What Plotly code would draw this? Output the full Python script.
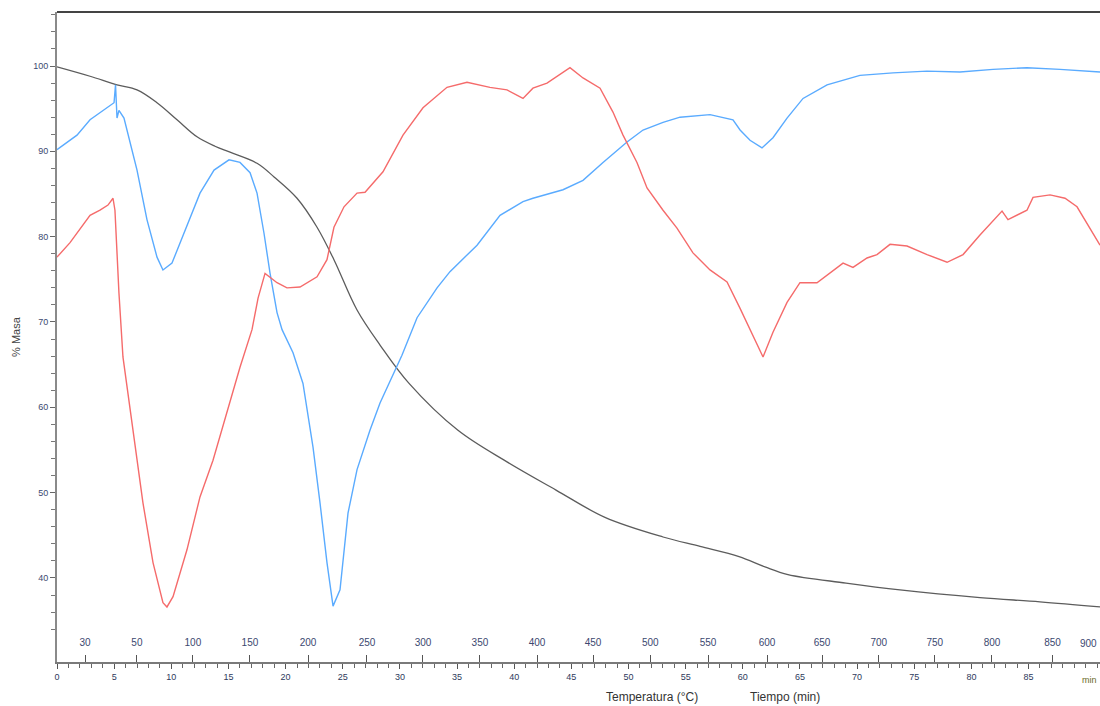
import plotly.graph_objects as go

# --- TG curve (black): time (min), % mass
tg_t = [0.00, 2.89, 5.25, 7.00, 8.75, 10.50, 12.25, 13.82, 15.14, 17.50, 18.99, 21.00, 22.75, 24.23,
        26.25, 28.26, 30.80, 35.08, 39.37, 43.66, 47.94, 53.02, 56.26, 59.67, 61.94, 63.95, 69.03,
        73.75, 80.75, 86.00, 91.25]
tg_y = [99.9, 98.8, 97.8, 97.2, 95.7, 93.7, 91.7, 90.6, 89.9, 88.6, 87.0, 84.5, 81.1, 77.3,
        71.4, 67.3, 62.8, 57.3, 53.6, 50.3, 47.1, 44.8, 43.7, 42.5, 41.3, 40.4, 39.4,
        38.6, 37.7, 37.2, 36.6]

# --- blue curve
blue_t = [0.00, 1.75, 2.89, 4.37, 4.99, 5.12, 5.25, 5.42, 5.86, 7.00, 7.87, 8.75, 9.27, 10.06, 11.11,
          12.51, 13.74, 15.05, 16.01, 16.89, 17.50, 18.11, 18.64, 19.25, 19.69, 20.65, 21.52, 22.40,
          23.01, 23.62, 24.15, 24.76, 25.46, 26.25, 27.38, 28.26, 30.18, 31.50, 33.25, 34.38, 36.75,
          38.76, 40.77, 41.64, 44.27, 46.02, 47.77, 49.87, 51.27, 53.02, 54.51, 57.13, 59.14, 59.76,
          60.63, 61.68, 62.64, 63.87, 65.27, 67.37, 70.25, 73.14, 76.11, 79.00, 81.89, 84.86, 87.75,
          91.25]
blue_y = [90.2, 91.9, 93.7, 95.1, 95.7, 97.8, 93.9, 94.8, 93.9, 87.8, 82.0, 77.6, 76.1, 76.9, 80.4,
          85.1, 87.8, 89.0, 88.7, 87.5, 85.1, 80.4, 75.7, 71.1, 69.1, 66.4, 62.8, 55.3,
          48.8, 41.8, 36.7, 38.6, 47.6, 52.7, 57.3, 60.5, 66.1, 70.5, 74.0, 75.9, 79.0,
          82.5, 84.1, 84.5, 85.5, 86.6, 88.7, 91.1, 92.5, 93.4, 94.0, 94.3, 93.7, 92.5,
          91.3, 90.4, 91.6, 93.9, 96.2, 97.8, 98.9, 99.2, 99.4, 99.3, 99.6, 99.8, 99.6,
          99.3]

# --- red curve
red_t = [0.00, 1.14, 2.89, 3.76, 4.46, 4.90, 5.07, 5.42, 5.77, 6.65, 7.52, 8.40, 9.27, 9.62, 10.15,
         11.37, 12.51, 13.65, 14.87, 16.01, 17.06, 17.59, 18.20, 19.25, 20.12, 21.26, 22.75, 23.62,
         24.23, 25.11, 26.25, 26.95, 28.52, 30.27, 32.02, 34.12, 35.87, 37.88, 39.37, 40.77, 41.64,
         42.87, 44.88, 46.02, 47.51, 48.64, 49.52, 50.74, 51.62, 53.02, 54.24, 55.64, 57.13, 58.62,
         59.76, 60.89, 61.77, 62.64, 63.87, 65.00, 66.49, 68.77, 69.64, 70.87, 71.74, 72.88, 74.37,
         76.12, 77.87, 79.27, 80.75, 82.68, 83.20, 84.86, 85.39, 86.88, 88.19, 89.24, 91.25]
red_y = [77.6, 79.3, 82.5, 83.1, 83.7, 84.5, 83.1, 73.4, 65.9, 57.3, 48.8, 41.8, 37.1, 36.6, 37.8,
         43.3, 49.5, 53.8, 59.3, 64.7, 69.1, 72.8, 75.7, 74.6, 74.0, 74.1, 75.3, 77.3,
         81.1, 83.5, 85.1, 85.2, 87.6, 91.9, 95.1, 97.5, 98.1, 97.5, 97.2, 96.2, 97.4,
         98.0, 99.8, 98.6, 97.4, 94.6, 91.9, 88.7, 85.7, 83.1, 81.0, 78.1, 76.1, 74.7,
         71.6, 68.5, 65.9, 68.8, 72.3, 74.6, 74.6, 76.9, 76.4, 77.5, 77.9, 79.1, 78.9,
         77.9, 77.0, 77.9, 80.2, 83.0, 82.0, 83.1, 84.6, 84.9, 84.5, 83.5, 79.0]

# --- axis tick labels
time_ticks = [0, 5, 10, 15, 20, 25, 30, 35, 40, 45, 50, 55, 60, 65, 70, 75, 80, 85]
time_unit_label = "min"
temp_labels = ["30", "50", "100", "150", "200", "250", "300", "350", "400", "450", "500",
               "550", "600", "650", "700", "750", "800", "850", "900"]
temp_label_times = [2.45, 6.99, 11.89, 16.88, 21.96, 27.12, 32.02, 37.0, 42.0, 46.9, 51.9,
                    56.96, 62.12, 66.93, 71.9, 76.8, 81.8, 87.1, 92.0]
y_ticks = [40, 50, 60, 70, 80, 90, 100]

X_RANGE = [0, 91.25]
Y_RANGE = [30.15, 106.33]
label_color = "#3b4870"

fig = go.Figure()
fig.add_trace(go.Scatter(x=tg_t, y=tg_y, mode="lines", line=dict(color="#5c5c5c", width=1.3),
                         line_shape="spline", showlegend=False, hoverinfo="skip"))
fig.add_trace(go.Scatter(x=blue_t, y=blue_y, mode="lines", line=dict(color="#5aabff", width=1.4),
                         showlegend=False, hoverinfo="skip"))
fig.add_trace(go.Scatter(x=red_t, y=red_y, mode="lines", line=dict(color="#f56b6b", width=1.4),
                         showlegend=False, hoverinfo="skip", xaxis="x2"))

fig.update_layout(
    width=1100, height=706,
    margin=dict(l=57, r=0, t=12, b=44),
    paper_bgcolor="white", plot_bgcolor="white",
    font=dict(family="Liberation Sans, Arial, sans-serif", size=10, color=label_color),
    xaxis=dict(range=X_RANGE, showgrid=False, zeroline=False, showline=True,
               linecolor="#7a7a7a", linewidth=2, ticks="outside", ticklen=5, tickwidth=1,
               tickcolor="#555", tickvals=time_ticks, ticktext=[str(v) for v in time_ticks],
               tickfont=dict(size=9, color="#2e3a5c"),
               minor=dict(dtick=1, ticks="outside", ticklen=4, tickcolor="#666", showgrid=False)),
    xaxis2=dict(range=X_RANGE, overlaying="x", anchor="y", side="bottom", showgrid=False,
                zeroline=False, showline=False, ticks="inside", ticklen=7, tickwidth=1,
                tickcolor="#555", tickvals=temp_label_times, ticktext=temp_labels,
                ticklabelposition="inside", ticklabelstandoff=6,
                tickfont=dict(size=10, color=label_color)),
    yaxis=dict(range=Y_RANGE, showgrid=False, zeroline=False, showline=True,
               linecolor="#8a8a8a", linewidth=2, ticks="outside", ticklen=5, tickwidth=1,
               tickcolor="#666", tickvals=y_ticks, ticktext=[str(v) for v in y_ticks],
               tickfont=dict(size=9, color=label_color),
               minor=dict(dtick=2, ticks="outside", ticklen=4, tickcolor="#777", showgrid=False),
               title=dict(text="% Masa", font=dict(size=11, color="#444"), standoff=10)),
    shapes=[dict(type="line", xref="paper", yref="paper", x0=0, x1=1, y0=1, y1=1,
                 line=dict(color="#444", width=2))],
)

# helpers: window pixel -> paper fraction for the plot area (57..1100, 12..662)
plot_w = 1100 - 57
plot_h = 662 - 12
def px_x(px):
    return (px - 57) / plot_w
def px_y(py):
    return (662 - py) / plot_h

for txt, px in [("Temperatura (°C)", 652), ("Tiempo (min)", 785)]:
    fig.add_annotation(text=txt, xref="paper", yref="paper", x=px_x(px), y=px_y(697),
                       xanchor="center", yanchor="middle",
                       showarrow=False, font=dict(size=12, color="#333"))

# last temperature label and the time unit, kept just inside the right edge
fig.add_annotation(text=temp_labels[-1], xref="paper", yref="paper",
                   x=px_x(1099), y=px_y(643), xanchor="right", yanchor="middle",
                   showarrow=False, font=dict(size=10, color=label_color))
fig.add_annotation(text=time_unit_label, xref="paper", yref="paper",
                   x=px_x(1099), y=px_y(680), xanchor="right", yanchor="middle",
                   showarrow=False, font=dict(size=9, color="#6b6a2a"))

# remove the default page margin so the 1100x706 figure fills the window exactly
fig.write_html("out.html", config={"responsive": False, "displayModeBar": False},
               post_script="document.body.style.margin='0px';document.body.style.overflow='hidden';")
